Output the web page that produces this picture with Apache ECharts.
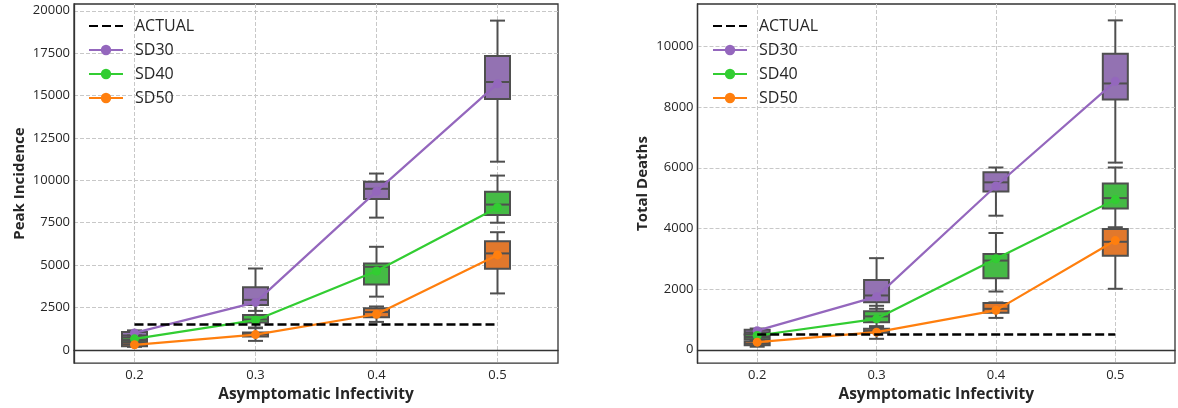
<!DOCTYPE html>
<html>
<head>
<meta charset="utf-8">
<script src="https://cdn.jsdelivr.net/npm/echarts@6/dist/echarts.min.js"></script>
<style>
  html, body { margin: 0; padding: 0; background: #ffffff; }
  #chart { width: 1178px; height: 408px; }
</style>
</head>
<body>
<div id="chart"></div>
<script>
// Asymptomatic infectivity levels (x positions)
const infectivity = [0.2, 0.3, 0.4, 0.5];
const xTickLabels = ['0.2', '0.3', '0.4', '0.5'];
const peakTicks = [0, 2500, 5000, 7500, 10000, 12500, 15000, 17500, 20000];
const deathTicks = [0, 2000, 4000, 6000, 8000, 10000];
const legendNames = ['ACTUAL', 'SD30', 'SD40', 'SD50'];

// Peak incidence: [min, Q1, median, Q3, max] per infectivity level
const peakSD30 = [[550, 700, 850, 1050, 1150], [2300, 2650, 2950, 3700, 4800], [7800, 8900, 9500, 9920, 10400], [11100, 14800, 15800, 17330, 19420]];
const peakSD40 = [[300, 430, 580, 730, 850], [1320, 1610, 1790, 2060, 2650], [3140, 3860, 4900, 5100, 6080], [7500, 7960, 8570, 9330, 10280]];
const peakSD50 = [[180, 220, 330, 450, 560], [530, 790, 920, 1020, 1280], [1650, 1920, 2230, 2450, 2560], [3330, 4790, 5690, 6410, 6940]];
// Peak incidence: mean per infectivity level
const peakMeanSD30 = [1000, 2800, 9350, 15700];
const peakMeanSD40 = [650, 1750, 4650, 8400];
const peakMeanSD50 = [300, 900, 2100, 5600];
const peakActual = 1500;

// Total deaths: [min, Q1, median, Q3, max] per infectivity level
const deathSD30 = [[450, 500, 570, 660, 700], [1350, 1570, 1790, 2300, 3020], [4420, 5220, 5520, 5850, 6010], [6170, 8250, 8780, 9760, 10860]];
const deathSD40 = [[300, 350, 420, 500, 560], [780, 910, 1100, 1270, 1450], [1920, 2360, 2940, 3160, 3850], [3960, 4660, 5000, 5480, 6010]];
const deathSD50 = [[100, 150, 200, 280, 330], [360, 560, 625, 690, 750], [1050, 1220, 1350, 1540, 1560], [2010, 3100, 3560, 3980, 4040]];
// Total deaths: mean per infectivity level
const deathMeanSD30 = [630, 1750, 5400, 8850];
const deathMeanSD40 = [470, 1020, 3000, 4950];
const deathMeanSD50 = [250, 580, 1300, 3600];
const deathActual = 500;

const lineColors = { SD30: '#9467bd', SD40: '#32cd32', SD50: '#ff7f0e' };
const boxColors = { SD30: '#9372b2', SD40: '#45ba45', SD50: '#e1782c' };
const EDGE = '#4f4f4f';
const FRAME = '#333333';
const BOX_W = 25;
const CAP_W = 15;
const FONT = 'Open Sans';
const TEXT = '#262626';

function boxRenderer(fill) {
  return function (params, api) {
    const x = api.value(0);
    const pMin = api.coord([x, api.value(1)]);
    const pQ1 = api.coord([x, api.value(2)]);
    const pMed = api.coord([x, api.value(3)]);
    const pQ3 = api.coord([x, api.value(4)]);
    const pMax = api.coord([x, api.value(5)]);
    const cx = pMed[0];
    const hw = BOX_W / 2, cw = CAP_W / 2;
    const st = { stroke: EDGE, lineWidth: 2 };
    return {
      type: 'group',
      children: [
        { type: 'line', shape: { x1: cx, y1: pQ3[1], x2: cx, y2: pMax[1] }, style: st },
        { type: 'line', shape: { x1: cx, y1: pQ1[1], x2: cx, y2: pMin[1] }, style: st },
        { type: 'line', shape: { x1: cx - cw, y1: pMax[1], x2: cx + cw, y2: pMax[1] }, style: st },
        { type: 'line', shape: { x1: cx - cw, y1: pMin[1], x2: cx + cw, y2: pMin[1] }, style: st },
        { type: 'rect', shape: { x: cx - hw, y: pQ3[1], width: 2 * hw, height: pQ1[1] - pQ3[1] },
          style: { fill: fill, stroke: EDGE, lineWidth: 2 } },
        { type: 'line', shape: { x1: cx - hw, y1: pMed[1], x2: cx + hw, y2: pMed[1] }, style: st }
      ]
    };
  };
}

function boxSeries(name, stats, idx) {
  return {
    name: name + ' spread',
    type: 'custom',
    xAxisIndex: idx, yAxisIndex: idx,
    dimensions: ['x', 'min', 'q1', 'median', 'q3', 'max'],
    encode: { x: 0, y: [1, 2, 3, 4, 5] },
    data: infectivity.map((x, i) => [x].concat(stats[i])),
    renderItem: boxRenderer(boxColors[name]),
    z: 2,
    silent: true
  };
}

function meanSeries(name, means, idx) {
  return {
    name: name,
    type: 'line',
    xAxisIndex: idx, yAxisIndex: idx,
    data: infectivity.map((x, i) => [x, means[i]]),
    symbol: 'circle',
    symbolSize: 9,
    showSymbol: true,
    lineStyle: { color: lineColors[name], width: 2.2 },
    itemStyle: { color: lineColors[name] },
    z: 3
  };
}

function actualSeries(value, idx) {
  return {
    name: 'ACTUAL',
    type: 'line',
    xAxisIndex: idx, yAxisIndex: idx,
    data: [[infectivity[0], value], [infectivity[infectivity.length - 1], value]],
    symbol: 'none',
    lineStyle: { color: '#000000', width: 2.5, type: [9, 4] },
    itemStyle: { color: '#000000' },
    z: 4
  };
}

const gridLine = { show: true, showMinLine: false, showMaxLine: false,
  lineStyle: { color: '#c8c8c8', width: 1, type: [4, 2] } };
const frameLine = { show: true, lineStyle: { color: FRAME, width: 1.3 } };

function xAxis(idx) {
  return {
    type: 'value', gridIndex: idx,
    min: 0.15, max: 0.55, minInterval: 0.1, maxInterval: 0.1,
    name: 'Asymptomatic Infectivity', nameLocation: 'middle', nameGap: 22,
    nameTextStyle: { fontFamily: FONT, fontSize: 15.5, fontWeight: 'bold', color: TEXT },
    axisLine: frameLine, axisTick: { show: false },
    axisLabel: {
      margin: 6, fontFamily: FONT, fontSize: 13, color: TEXT,
      formatter: v => {
        const i = infectivity.findIndex(c => Math.abs(c - v) < 1e-9);
        return i >= 0 ? xTickLabels[i] : '';
      }
    },
    splitLine: gridLine
  };
}

function yAxis(idx, name, min, max, step, ticks) {
  return {
    type: 'value', gridIndex: idx,
    min: min, max: max, minInterval: step, maxInterval: step,
    name: name, nameLocation: 'middle', nameGap: 47,
    nameTextStyle: { fontFamily: FONT, fontSize: 15, fontWeight: 'bold', color: TEXT },
    axisLine: frameLine, axisTick: { show: false },
    axisLabel: {
      margin: 4, fontFamily: FONT, fontSize: 13, color: TEXT,
      formatter: v => (ticks.some(t => Math.abs(t - v) < 1e-6) ? String(Math.round(v)) : '')
    },
    splitLine: gridLine
  };
}

function legend(left) {
  return {
    left: left, top: 18, orient: 'vertical',
    itemWidth: 34, itemHeight: 13, itemGap: 8, padding: 0,
    selectedMode: false,
    data: legendNames.map(n => n === 'ACTUAL'
      ? { name: n, itemStyle: { color: 'rgba(0,0,0,0)', opacity: 0 } }
      : { name: n }),
    textStyle: { fontFamily: FONT, fontSize: 16, color: TEXT, padding: [0, 0, 0, 7] }
  };
}

const chart = echarts.init(document.getElementById('chart'), null, { renderer: 'canvas' });
chart.setOption({
  animation: false,
  backgroundColor: '#ffffff',
  grid: [
    { left: 74, top: 4, width: 484, height: 360, show: true, borderColor: FRAME, borderWidth: 1.3, backgroundColor: 'transparent' },
    { left: 697.5, top: 4, width: 484, height: 360, show: true, borderColor: FRAME, borderWidth: 1.3, backgroundColor: 'transparent' }
  ],
  xAxis: [xAxis(0), xAxis(1)],
  yAxis: [
    yAxis(0, 'Peak Incidence', -780, 20400, 2500, peakTicks),
    yAxis(1, 'Total Deaths', -440, 11400, 2000, deathTicks)
  ],
  legend: [legend(88), legend(712)],
  series: [
    boxSeries('SD30', peakSD30, 0),
    boxSeries('SD40', peakSD40, 0),
    boxSeries('SD50', peakSD50, 0),
    actualSeries(peakActual, 0),
    meanSeries('SD30', peakMeanSD30, 0),
    meanSeries('SD40', peakMeanSD40, 0),
    meanSeries('SD50', peakMeanSD50, 0),
    boxSeries('SD30', deathSD30, 1),
    boxSeries('SD40', deathSD40, 1),
    boxSeries('SD50', deathSD50, 1),
    actualSeries(deathActual, 1),
    meanSeries('SD30', deathMeanSD30, 1),
    meanSeries('SD40', deathMeanSD40, 1),
    meanSeries('SD50', deathMeanSD50, 1)
  ]
});
</script>
</body>
</html>
